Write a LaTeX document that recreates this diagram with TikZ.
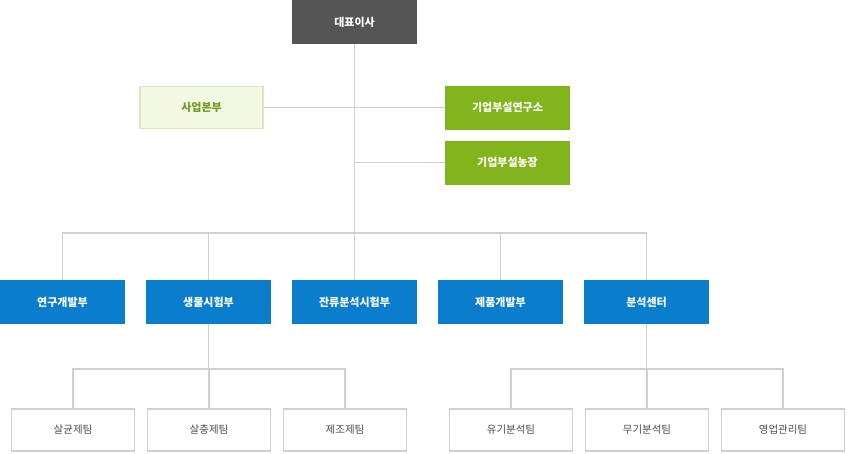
\documentclass[tikz,border=0pt]{standalone}
\usepackage{fontspec}
\setmainfont{Noto Sans CJK KR}
\usetikzlibrary{positioning}
\definecolor{ceo}{HTML}{555555}
\definecolor{lgreen}{HTML}{F2F8E1}
\definecolor{lgreenline}{HTML}{D8E9B4}
\definecolor{dgreen}{HTML}{6F9C22}
\definecolor{green}{HTML}{82B41C}
\definecolor{blue}{HTML}{0A7DCC}
\definecolor{line}{HTML}{D0D0D0}
\begin{document}
\begin{tikzpicture}[x=1pt,y=-1pt,%
% common options for boxes:
box/.style = {minimum width=125pt, minimum height=44pt, inner sep=0,
            align=center, font=\bfseries\fontsize{11pt}{13pt}\selectfont, text=white},
team/.style = {box, draw=line, line width=1.2pt, fill=white, minimum width=123pt,
            minimum height=42pt, text=black!70, font=\fontsize{10.5pt}{13pt}\selectfont},
conn/.style = {draw=line, line width=1.5pt}]
\useasboundingbox (0,0) rectangle (847,453);
\node[box, fill=ceo] (ceo) at (354.5,22) {대표이사};
\node[box, fill=lgreen, draw=lgreenline, line width=1.2pt, minimum width=123pt,
      minimum height=42pt, text=dgreen] (biz) at (201.5,107.5) {사업본부};
\node[box, fill=green] (lab) at (507.5,107.5) {기업부설연구소};
\node[box, fill=green] (farm) at (507.5,162.5) {기업부설농장};
\node[box, fill=blue] (D1) at (62.5,302) {연구개발부};
\node[box, fill=blue] (D2) at (208.5,302) {생물시험부};
\node[box, fill=blue] (D3) at (354.5,302) {잔류분석시험부};
\node[box, fill=blue] (D4) at (500.5,302) {제품개발부};
\node[box, fill=blue] (D5) at (646.5,302) {분석센터};
\node[team] (T1) at (73,430) {살균제팀};
\node[team] (T2) at (209,430) {살충제팀};
\node[team] (T3) at (345,430) {제조제팀};
\node[team] (T4) at (511,430) {유기분석팀};
\node[team] (T5) at (647,430) {무기분석팀};
\node[team] (T6) at (783,430) {영업관리팀};
\coordinate (bus) at (354.5,233);
\coordinate (busA) at (208.5,369);
\coordinate (busB) at (646.5,369);
\begin{scope}[on background layer/.try]
\draw[conn] (ceo.south) -- (bus);
\draw[conn] (biz.east) -- (lab.west);
\draw[conn] (ceo.south |- farm.west) -- (farm.west);
\draw[conn] (D1.north) |- (bus) -| (D5.north);
\draw[conn] (D2.north) -- (D2.north |- bus);
\draw[conn] (D3.north) -- (bus);
\draw[conn] (D4.north) -- (D4.north |- bus);
\draw[conn] (D2.south) -- (busA);
\draw[conn] (T1.north) |- (busA) -| (T3.north);
\draw[conn] (T2.north) -- (T2.north |- busA);
\draw[conn] (D5.south) -- (busB);
\draw[conn] (T4.north) |- (busB) -| (T6.north);
\draw[conn] (T5.north) -- (T5.north |- busB);
\end{scope}
\end{tikzpicture}
\end{document}
